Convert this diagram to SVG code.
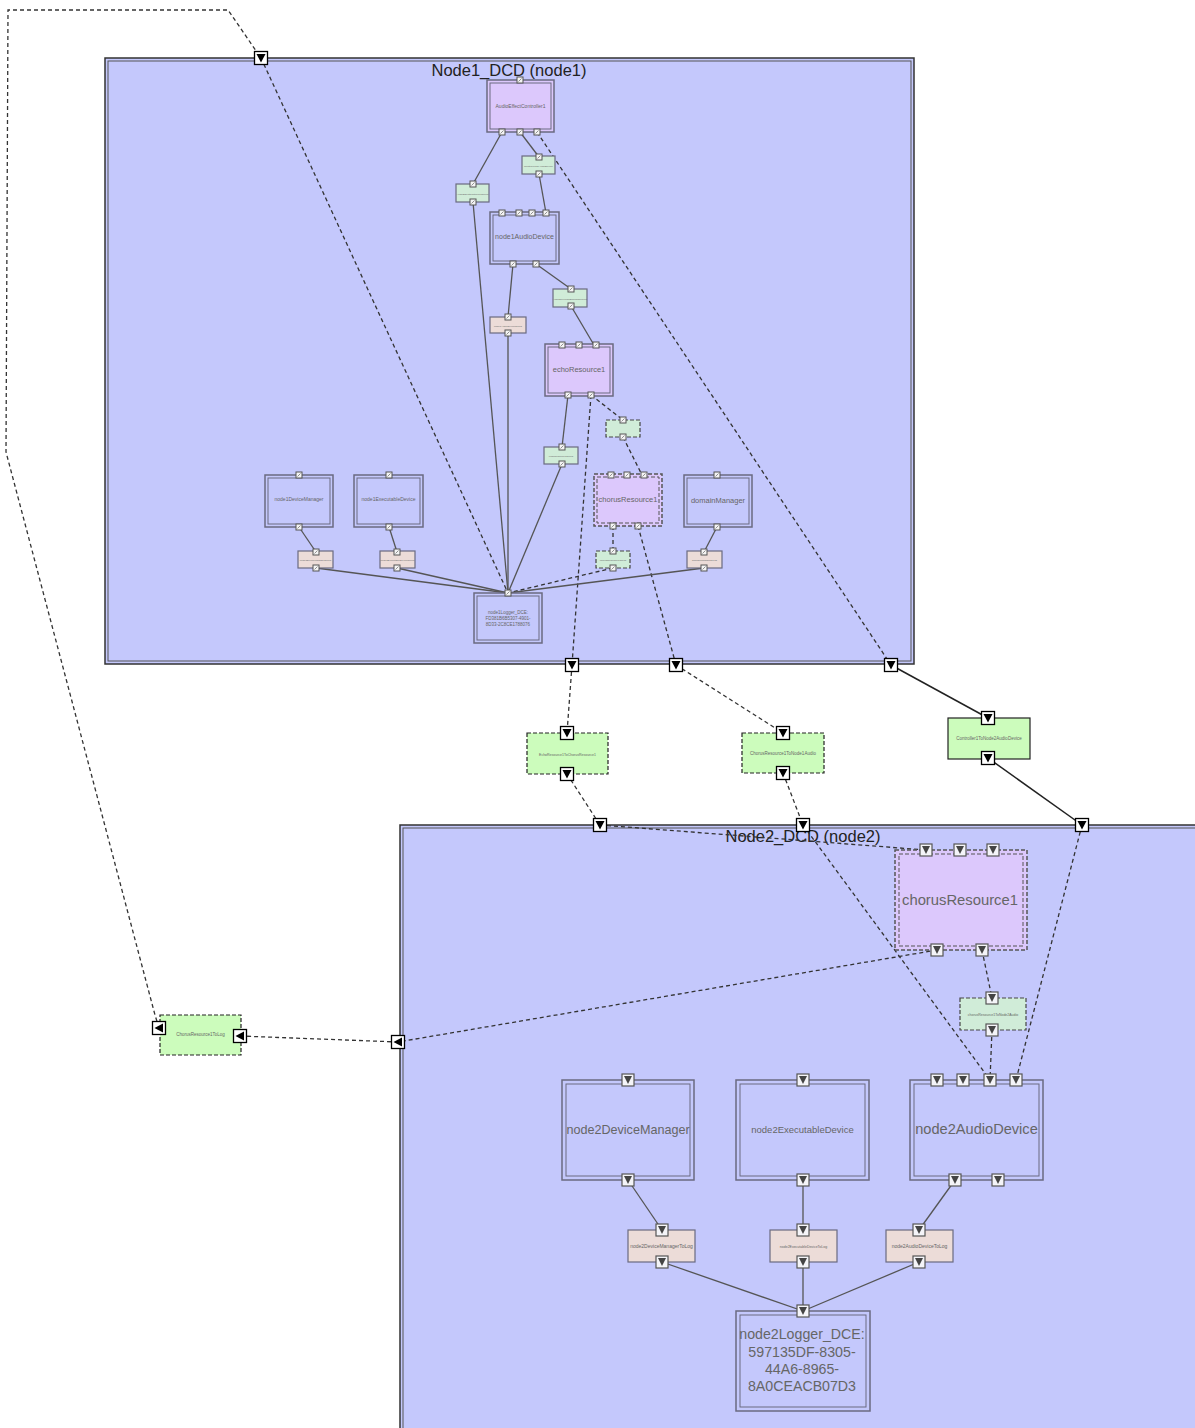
<svg xmlns="http://www.w3.org/2000/svg" xmlns:xlink="http://www.w3.org/1999/xlink" width="1195" height="1428" viewBox="0 0 1195 1428">
<style>
.cont{fill:#c4c8fc;stroke:#333;stroke-width:1.5}
.contin{fill:none;stroke:#555;stroke-width:1}
.dev{fill:#c4c8fc;stroke:#6a6a80;stroke-width:1.5}
.res{fill:#dcc8fc;stroke:#6a6a80;stroke-width:1.5}
.resd{fill:#dcc8fc;stroke:#555;stroke-width:1.5;stroke-dasharray:4 2}
.in{fill:none;stroke:#6a6a80;stroke-width:1}
.ind{fill:none;stroke:#555;stroke-width:1;stroke-dasharray:4 2}
.grn{fill:#d0ecd8;stroke:#6a6a80;stroke-width:1.2}
.grnd{fill:#d0ecd8;stroke:#444;stroke-width:1.2;stroke-dasharray:4 2}
.beige{fill:#ecdcd8;stroke:#6a6a80;stroke-width:1.2}
.xg{fill:#ccfcbc;stroke:#222;stroke-width:1.2}
.xgd{fill:#ccfcbc;stroke:#222;stroke-width:1.2;stroke-dasharray:4 2}
.t{font-family:"Liberation Sans",Arial,sans-serif;fill:#666;text-anchor:middle}
.title{font-family:"Liberation Sans",Arial,sans-serif;fill:#222;text-anchor:middle;font-size:16.5px}
.s{fill:none;stroke:#555;stroke-width:1.3}
.d{fill:none;stroke:#333;stroke-width:1.3;stroke-dasharray:4 3}
.sx{fill:none;stroke:#222;stroke-width:1.5}
</style>
<defs>
<g id="ps"><rect x="-3" y="-3" width="6" height="6" fill="#f4f4f4" stroke="#555" stroke-width="1"/><path d="M-1.5 1.5 L1.5 -1.5" stroke="#777" stroke-width="0.8"/></g>
<g id="pm"><rect x="-6" y="-6" width="12" height="12" fill="#f4f4f8" stroke="#555" stroke-width="1.2"/><polygon points="-4,-4 4,-4 0,4" fill="#444"/></g>
<g id="pb"><rect x="-6.5" y="-6.5" width="13" height="13" fill="#fff" stroke="#000" stroke-width="1.3"/><polygon points="-4.5,-4 4.5,-4 0,4.5" fill="#000"/></g>
<g id="pbl"><rect x="-6.5" y="-6.5" width="13" height="13" fill="#fff" stroke="#000" stroke-width="1.3"/><polygon points="4,-4.5 4,4.5 -4.5,0" fill="#000"/></g>
</defs>

<g id="node1_container">
<rect class="cont" x="105" y="58" width="809" height="606"/>
<rect class="contin" x="108" y="61" width="803" height="600"/>
<text class="title" x="509" y="76">Node1_DCD (node1)</text>
</g>
<g id="node2_container">
<rect class="cont" x="400" y="825" width="800" height="610"/>
<rect class="contin" x="403" y="828" width="797" height="610"/>
<text class="title" x="803" y="842">Node2_DCD (node2)</text>
</g>

<g id="connectors">
<path class="s" d="M502 132 L473 184"/>
<path class="s" d="M520 132 L539 157"/>
<path class="d" d="M537 132 L891 665"/>
<path class="s" d="M473 202 L508 593"/>
<path class="s" d="M539 174 L546 213"/>
<path class="s" d="M513 264 L508 317"/>
<path class="s" d="M536 264 L571 289"/>
<path class="s" d="M571 306 L594 345"/>
<path class="s" d="M508 333 L508 593"/>
<path class="s" d="M568 395 L562 447"/>
<path class="s" d="M562 464 L508 593"/>
<path class="d" d="M591 395 L623 420"/>
<path class="d" d="M591 395 L572 665"/>
<path class="d" d="M623 437 L642 475"/>
<path class="d" d="M613 526 L613 551"/>
<path class="d" d="M638 526 L676 665"/>
<path class="d" d="M613 568 L508 593"/>
<path class="s" d="M299 527 L316 552"/>
<path class="s" d="M316 568 L508 593"/>
<path class="s" d="M389 527 L397 552"/>
<path class="s" d="M397 568 L508 593"/>
<path class="s" d="M717 527 L704 552"/>
<path class="s" d="M704 568 L508 593"/>
<path class="d" d="M159 1028 L155 1015 L6 452 L8 10 L228 10 L261 58 L508 593"/>
<path class="d" d="M572 665 L567 733"/>
<path class="d" d="M567 774 L600 825"/>
<path class="d" d="M600 825 L926 850"/>
<path class="d" d="M676 665 L783 733"/>
<path class="d" d="M783 773 L803 825"/>
<path class="d" d="M803 825 L990 1080"/>
<path class="sx" d="M891 665 L988 718"/>
<path class="sx" d="M988 758 L1082 825"/>
<path class="d" d="M1082 825 L1016 1080"/>
<path class="d" d="M982 950 L992 998"/>
<path class="d" d="M992 1030 L990 1080"/>
<path class="d" d="M937 950 L398 1042"/>
<path class="d" d="M398 1042 L240 1036"/>
<path class="s" d="M628 1180 L662 1230"/>
<path class="s" d="M803 1180 L803 1230"/>
<path class="s" d="M955 1180 L919 1230"/>
<path class="s" d="M662 1262 L803 1311"/>
<path class="s" d="M803 1262 L803 1311"/>
<path class="s" d="M919 1262 L803 1311"/>
</g>

<g id="AudioEffectController1">
<rect class="res" x="487" y="80" width="67" height="52"/><rect class="in" x="490" y="83" width="61" height="46"/>
<text class="t" x="520.5" y="108" font-size="5">AudioEffectController1</text>
<use href="#ps" x="520" y="80"/><use href="#ps" x="502" y="132"/><use href="#ps" x="520" y="132"/><use href="#ps" x="537" y="132"/>
</g>
<g id="n1_conn_a">
<rect class="grn" x="456" y="184" width="33" height="18"/>
<text class="t" x="472.5" y="195" font-size="2.5">AudioEffectController1ToLog</text>
<use href="#ps" x="473" y="184"/><use href="#ps" x="473" y="202"/>
</g>
<g id="n1_conn_b">
<rect class="grn" x="522" y="156" width="33" height="18"/>
<text class="t" x="538.5" y="167" font-size="2.5">Controller1ToAudioDevice</text>
<use href="#ps" x="539" y="157"/><use href="#ps" x="539" y="174"/>
</g>
<g id="node1AudioDevice">
<rect class="dev" x="490" y="212" width="69" height="52"/><rect class="in" x="493" y="215" width="63" height="46"/>
<text class="t" x="524.5" y="239" font-size="7">node1AudioDevice</text>
<use href="#ps" x="502" y="213"/><use href="#ps" x="519" y="213"/><use href="#ps" x="532" y="213"/><use href="#ps" x="546" y="213"/>
<use href="#ps" x="513" y="264"/><use href="#ps" x="536" y="264"/>
</g>
<g id="node1AudioDeviceToLog">
<rect class="beige" x="490" y="317" width="36" height="16"/>
<text class="t" x="508" y="327" font-size="2.5">node1AudioDeviceToLog</text>
<use href="#ps" x="508" y="317"/><use href="#ps" x="508" y="333"/>
</g>
<g id="n1_conn_c">
<rect class="grn" x="553" y="289" width="34" height="18"/>
<text class="t" x="570" y="300" font-size="2.5">AudioDeviceToEchoResource1</text>
<use href="#ps" x="571" y="289"/><use href="#ps" x="571" y="306"/>
</g>
<g id="echoResource1">
<rect class="res" x="545" y="344" width="68" height="52"/><rect class="in" x="548" y="347" width="62" height="46"/>
<text class="t" x="579" y="372" font-size="7.5">echoResource1</text>
<use href="#ps" x="562" y="345"/><use href="#ps" x="579" y="345"/><use href="#ps" x="596" y="345"/>
<use href="#ps" x="568" y="395"/><use href="#ps" x="591" y="395"/>
</g>
<g id="n1_conn_d">
<rect class="grnd" x="606" y="420" width="34" height="17"/>
<use href="#ps" x="623" y="420"/><use href="#ps" x="623" y="437"/>
</g>
<g id="echoResource1ToLog">
<rect class="grn" x="544" y="447" width="34" height="17"/>
<text class="t" x="561" y="457" font-size="2.5">echoResource1ToLog</text>
<use href="#ps" x="562" y="447"/><use href="#ps" x="562" y="464"/>
</g>
<g id="n1_chorusResource1">
<rect class="resd" x="594" y="474" width="68" height="52"/><rect class="ind" x="597" y="477" width="62" height="46"/>
<text class="t" x="628" y="502" font-size="7.5">chorusResource1</text>
<use href="#ps" x="611" y="475"/><use href="#ps" x="627" y="475"/><use href="#ps" x="644" y="475"/>
<use href="#ps" x="613" y="526"/><use href="#ps" x="638" y="526"/>
</g>
<g id="n1_chorusResource1ToLog">
<rect class="grnd" x="596" y="551" width="34" height="17"/>
<text class="t" x="613" y="561" font-size="2.5">chorusResource1ToLog</text>
<use href="#ps" x="613" y="551"/><use href="#ps" x="613" y="568"/>
</g>
<g id="node1DeviceManager">
<rect class="dev" x="265" y="475" width="68" height="52"/><rect class="in" x="268" y="478" width="62" height="46"/>
<text class="t" x="299" y="501" font-size="5">node1DeviceManager</text>
<use href="#ps" x="299" y="475"/><use href="#ps" x="299" y="527"/>
</g>
<g id="node1DeviceManagerToLog">
<rect class="beige" x="298" y="551" width="35" height="17"/>
<text class="t" x="315.5" y="561" font-size="2.5">node1DeviceManagerToLog</text>
<use href="#ps" x="316" y="552"/><use href="#ps" x="316" y="568"/>
</g>
<g id="node1ExecutableDevice">
<rect class="dev" x="354" y="475" width="69" height="52"/><rect class="in" x="357" y="478" width="63" height="46"/>
<text class="t" x="388.5" y="501" font-size="5">node1ExecutableDevice</text>
<use href="#ps" x="389" y="475"/><use href="#ps" x="389" y="527"/>
</g>
<g id="node1ExecutableDeviceToLog">
<rect class="beige" x="380" y="551" width="35" height="17"/>
<text class="t" x="397.5" y="561" font-size="2.5">node1ExecutableDeviceToLog</text>
<use href="#ps" x="397" y="552"/><use href="#ps" x="397" y="568"/>
</g>
<g id="domainManager">
<rect class="dev" x="684" y="475" width="68" height="52"/><rect class="in" x="687" y="478" width="62" height="46"/>
<text class="t" x="718" y="503" font-size="7.5">domainManager</text>
<use href="#ps" x="717" y="475"/><use href="#ps" x="717" y="527"/>
</g>
<g id="domainManagerToLog">
<rect class="beige" x="687" y="551" width="35" height="17"/>
<text class="t" x="704.5" y="561" font-size="2.5">domainManagerToLog</text>
<use href="#ps" x="704" y="552"/><use href="#ps" x="704" y="568"/>
</g>
<g id="node1Logger">
<rect class="dev" x="474" y="593" width="68" height="50"/><rect class="in" x="477" y="596" width="62" height="44"/>
<text class="t" font-size="4.5"><tspan x="508" y="614">node1Logger_DCE:</tspan><tspan x="508" y="620">FD381B6B5307-4901-</tspan><tspan x="508" y="626">8D33-2C8CE1788076</tspan></text>
<use href="#ps" x="508" y="593"/>
</g>

<g id="EchoResource1ToChorusResource1">
<rect class="xgd" x="527" y="733" width="81" height="41"/>
<text class="t" x="567.5" y="756" font-size="3.5">EchoResource1ToChorusResource1</text>
</g>
<g id="ChorusResource1ToNode1Audio">
<rect class="xgd" x="742" y="733" width="82" height="40"/>
<text class="t" x="783" y="755" font-size="4.5">ChorusResource1ToNode1Audio</text>
</g>
<g id="Controller1ToNode2AudioDevice">
<rect class="xg" x="948" y="718" width="82" height="41"/>
<text class="t" x="989" y="740" font-size="4.5">Controller1ToNode2AudioDevice</text>
</g>
<g id="ChorusResource1ToLog">
<rect class="xgd" x="160" y="1015" width="81" height="40"/>
<text class="t" x="200.5" y="1036" font-size="4.5">ChorusResource1ToLog</text>
</g>

<g id="n2_chorusResource1">
<rect class="resd" x="895" y="850" width="132" height="100"/><rect class="ind" x="899" y="854" width="124" height="92"/>
<text class="t" x="960" y="905" font-size="14.8">chorusResource1</text>
<use href="#pm" x="926" y="850"/><use href="#pm" x="960" y="850"/><use href="#pm" x="993" y="850"/>
<use href="#pm" x="937" y="950"/><use href="#pm" x="982" y="950"/>
</g>
<g id="n2_conn">
<rect class="grnd" x="960" y="998" width="66" height="32"/>
<text class="t" x="993" y="1016" font-size="3.5">chorusResource1ToNode2Audio</text>
<use href="#pm" x="992" y="998"/><use href="#pm" x="992" y="1030"/>
</g>
<g id="node2DeviceManager">
<rect class="dev" x="562" y="1080" width="132" height="100"/><rect class="in" x="566" y="1084" width="124" height="92"/>
<text class="t" x="628" y="1134" font-size="12.6">node2DeviceManager</text>
<use href="#pm" x="628" y="1080"/><use href="#pm" x="628" y="1180"/>
</g>
<g id="node2ExecutableDevice">
<rect class="dev" x="736" y="1080" width="133" height="100"/><rect class="in" x="740" y="1084" width="125" height="92"/>
<text class="t" x="802.5" y="1133" font-size="9.5">node2ExecutableDevice</text>
<use href="#pm" x="803" y="1080"/><use href="#pm" x="803" y="1180"/>
</g>
<g id="node2AudioDevice">
<rect class="dev" x="910" y="1080" width="133" height="100"/><rect class="in" x="914" y="1084" width="125" height="92"/>
<text class="t" x="976.5" y="1134" font-size="14.6">node2AudioDevice</text>
<use href="#pm" x="937" y="1080"/><use href="#pm" x="963" y="1080"/><use href="#pm" x="990" y="1080"/><use href="#pm" x="1016" y="1080"/>
<use href="#pm" x="955" y="1180"/><use href="#pm" x="998" y="1180"/>
</g>
<g id="node2DeviceManagerToLog">
<rect class="beige" x="628" y="1230" width="67" height="32"/>
<text class="t" x="661.5" y="1248" font-size="5">node2DeviceManagerToLog</text>
<use href="#pm" x="662" y="1230"/><use href="#pm" x="662" y="1262"/>
</g>
<g id="node2ExecutableDeviceToLog">
<rect class="beige" x="770" y="1230" width="67" height="32"/>
<text class="t" x="803.5" y="1248" font-size="3.5">node2ExecutableDeviceToLog</text>
<use href="#pm" x="803" y="1230"/><use href="#pm" x="803" y="1262"/>
</g>
<g id="node2AudioDeviceToLog">
<rect class="beige" x="886" y="1230" width="67" height="32"/>
<text class="t" x="919.5" y="1248" font-size="5">node2AudioDeviceToLog</text>
<use href="#pm" x="919" y="1230"/><use href="#pm" x="919" y="1262"/>
</g>
<g id="node2Logger">
<rect class="dev" x="736" y="1311" width="134" height="100"/><rect class="in" x="740" y="1315" width="126" height="92"/>
<text class="t" font-size="14.2"><tspan x="802" y="1339">node2Logger_DCE:</tspan><tspan x="802" y="1357">597135DF-8305-</tspan><tspan x="802" y="1374">44A6-8965-</tspan><tspan x="802" y="1391">8A0CEACB07D3</tspan></text>
<use href="#pm" x="803" y="1311"/>
</g>

<g id="boundary_ports">
<use href="#pb" x="261" y="58"/>
<use href="#pb" x="572" y="665"/><use href="#pb" x="676" y="665"/><use href="#pb" x="891" y="665"/>
<use href="#pb" x="567" y="733"/><use href="#pb" x="567" y="774"/>
<use href="#pb" x="783" y="733"/><use href="#pb" x="783" y="773"/>
<use href="#pb" x="988" y="718"/><use href="#pb" x="988" y="758"/>
<use href="#pb" x="600" y="825"/><use href="#pb" x="803" y="825"/><use href="#pb" x="1082" y="825"/>
<use href="#pbl" x="159" y="1028"/><use href="#pbl" x="240" y="1036"/><use href="#pbl" x="398" y="1042"/>
</g>
</svg>
